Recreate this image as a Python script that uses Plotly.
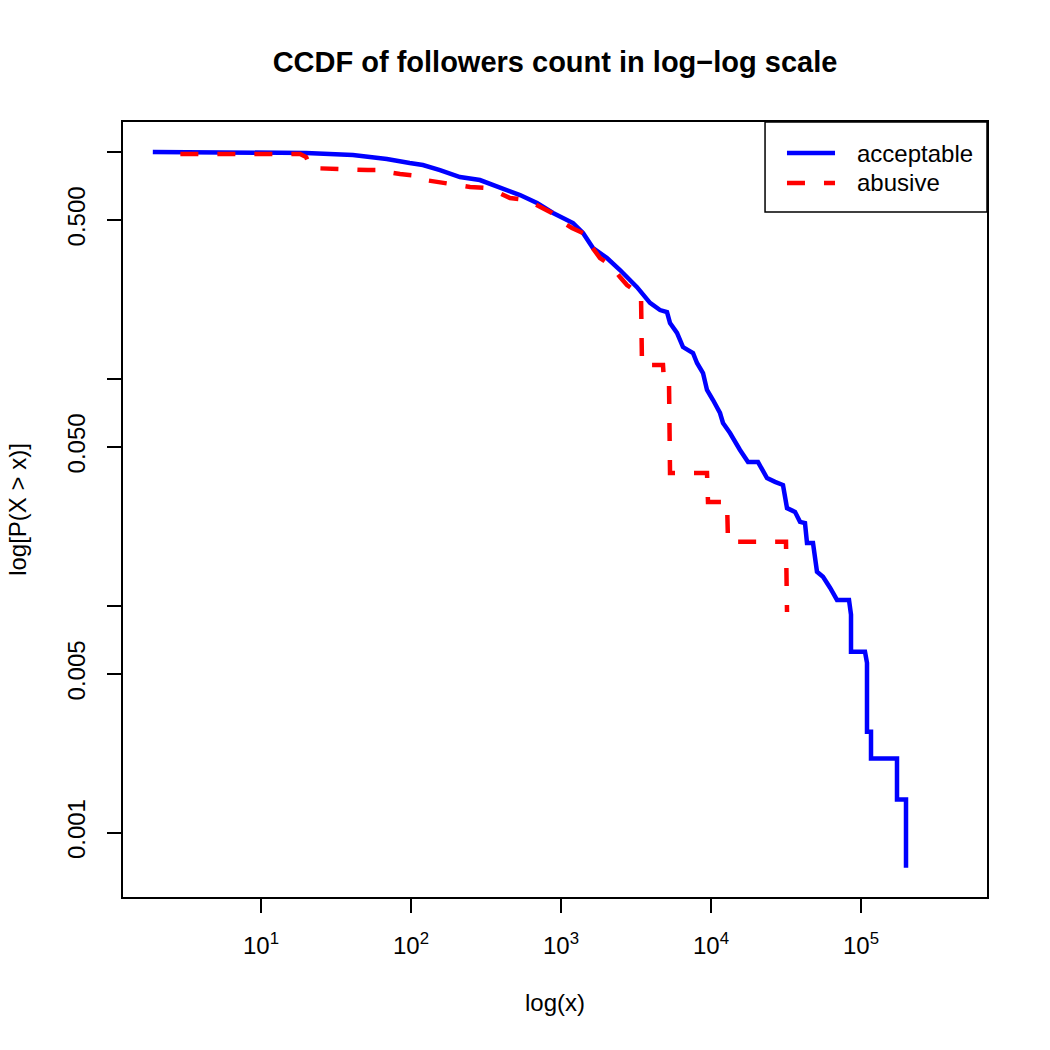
import plotly.graph_objects as go

# ---- data ----
acc_x = [1.9, 15, 20, 41, 69, 98, 120, 156, 212, 288, 392, 533, 692, 885, 1202, 1402,
         1634, 2026, 2474, 3211, 3921, 4571, 5090, 5331, 5934, 6506, 7586, 8067, 8846,
         9404, 10312, 11482, 12023, 13386, 15610, 17650, 20577, 23625, 26715, 30200,
         32120, 36308, 39205, 42325, 43652, 47863, 50895, 55810, 62170, 69183, 83176,
         85770, 85770, 106333, 109648, 109648, 116591, 116591, 173780, 173780, 199526,
         199526]
acc_y = [0.997, 0.987, 0.987, 0.967, 0.928, 0.891, 0.873, 0.830, 0.773, 0.750, 0.699,
         0.644, 0.594, 0.537, 0.485, 0.438, 0.376, 0.340, 0.301, 0.253, 0.2156, 0.2006,
         0.1966, 0.1759, 0.1590, 0.1378, 0.1297, 0.1172, 0.1059, 0.0892, 0.0805, 0.0706,
         0.0638, 0.0576, 0.0485, 0.0429, 0.0429, 0.0365, 0.0351, 0.0340, 0.0269, 0.0259,
         0.0234, 0.0231, 0.0189, 0.0189, 0.0141, 0.0134, 0.0120, 0.0106, 0.0106, 0.00912,
         0.00626, 0.00626, 0.00560, 0.00278, 0.00278, 0.00212, 0.00212, 0.00140, 0.00140,
         0.00070]

abu_x = [2.9, 18.2, 20, 21.5, 51.7, 67.1, 69.2, 84.5, 114.8, 124, 247.5, 311.5, 374.5,
         457, 593, 724, 871, 1016, 1184, 1491, 1609, 1820, 2122, 2474, 2754, 3415, 3467,
         4786, 4861, 5248, 5331, 9404, 9550, 12790, 12985, 31623, 32120]
abu_y = [0.976, 0.976, 0.947, 0.847, 0.830, 0.830, 0.814, 0.797, 0.781, 0.750, 0.699,
         0.692, 0.664, 0.625, 0.613, 0.571, 0.537, 0.490, 0.461, 0.430, 0.380, 0.340,
         0.317, 0.2805, 0.2586, 0.2336, 0.1149, 0.1149, 0.0967, 0.0967, 0.0384, 0.0384,
         0.0286, 0.0286, 0.0191, 0.0191, 0.00938]

series_names = ["acceptable", "abusive"]
series_colors = ["#0000FF", "#FF0000"]
series_dash = ["solid", "18px,19px"]

x_tickvals = [10, 100, 1000, 10000, 100000]
x_ticktext = ["10<sup>1</sup>", "10<sup>2</sup>", "10<sup>3</sup>", "10<sup>4</sup>", "10<sup>5</sup>"]
y_tickvals = [0.001, 0.005, 0.05, 0.5]
y_ticktext = ["0.001", "0.005", "0.050", "0.500"]
y_minor_tickvals = [0.01, 0.1, 1]

FONT = "Liberation Sans, Arial, Helvetica, sans-serif"

fig = go.Figure()
for xs, ys, nm, col, dsh in zip([acc_x, abu_x], [acc_y, abu_y], series_names,
                                series_colors, series_dash):
    fig.add_trace(go.Scatter(x=xs, y=ys, mode="lines", name=nm, showlegend=False,
                             line=dict(color=col, width=4.5, dash=dsh)))

# legend drawn R-style (box, line samples, labels) in paper coordinates
shapes = [dict(type="rect", xref="paper", yref="paper", x0=0.7431, x1=1.0,
               y0=0.8839, y1=1.0, line=dict(color="black", width=1.5),
               fillcolor="white", layer="above")]
annotations = []
for i, (nm, col, dsh) in enumerate(zip(series_names, series_colors, series_dash)):
    yy = 0.960 - i * 0.0387
    shapes.append(dict(type="line", xref="paper", yref="paper", x0=0.7685, x1=0.8241,
                       y0=yy, y1=yy, line=dict(color=col, width=4.5, dash=dsh),
                       layer="above"))
    annotations.append(dict(xref="paper", yref="paper", x=0.8472, y=yy, text=nm,
                            showarrow=False, xanchor="left", yanchor="middle",
                            font=dict(size=24, family=FONT, color="black")))

fig.update_layout(
    width=1050, height=1050,
    margin=dict(l=123, r=63, t=122, b=153),
    paper_bgcolor="white", plot_bgcolor="white",
    font=dict(family=FONT, size=24, color="black"),
    title=dict(text="<b>CCDF of followers count in log\u2212log scale</b>",
               x=0.5, xref="paper", xanchor="center",
               y=1 - 62 / 1050, yref="container", yanchor="middle",
               font=dict(size=29, family=FONT)),
    showlegend=False,
    shapes=shapes,
    annotations=annotations,
)
fig.update_xaxes(type="log", range=[0.08, 5.84], showgrid=False, zeroline=False,
                 showline=True, linecolor="black", linewidth=2, mirror=True,
                 ticks="outside", ticklen=14, tickwidth=1.5, tickcolor="black",
                 tickvals=x_tickvals, ticktext=x_ticktext, ticklabelstandoff=12,
                 title=dict(text="log(x)", standoff=36, font=dict(size=24)))
fig.update_yaxes(type="log", range=[-3.2834, 0.1307], showgrid=False, zeroline=False,
                 showline=True, linecolor="black", linewidth=2, mirror=True,
                 ticks="outside", ticklen=14, tickwidth=1.5, tickcolor="black",
                 tickvals=y_tickvals, ticktext=y_ticktext, tickangle=-90,
                 ticklabelstandoff=12,
                 minor=dict(tickmode="array", tickvals=y_minor_tickvals, ticks="outside",
                            ticklen=14, tickwidth=1.5, tickcolor="black", showgrid=False),
                 title=dict(text="log[P(X > x)]", standoff=30, font=dict(size=24)))

fig.write_html("out.html")
